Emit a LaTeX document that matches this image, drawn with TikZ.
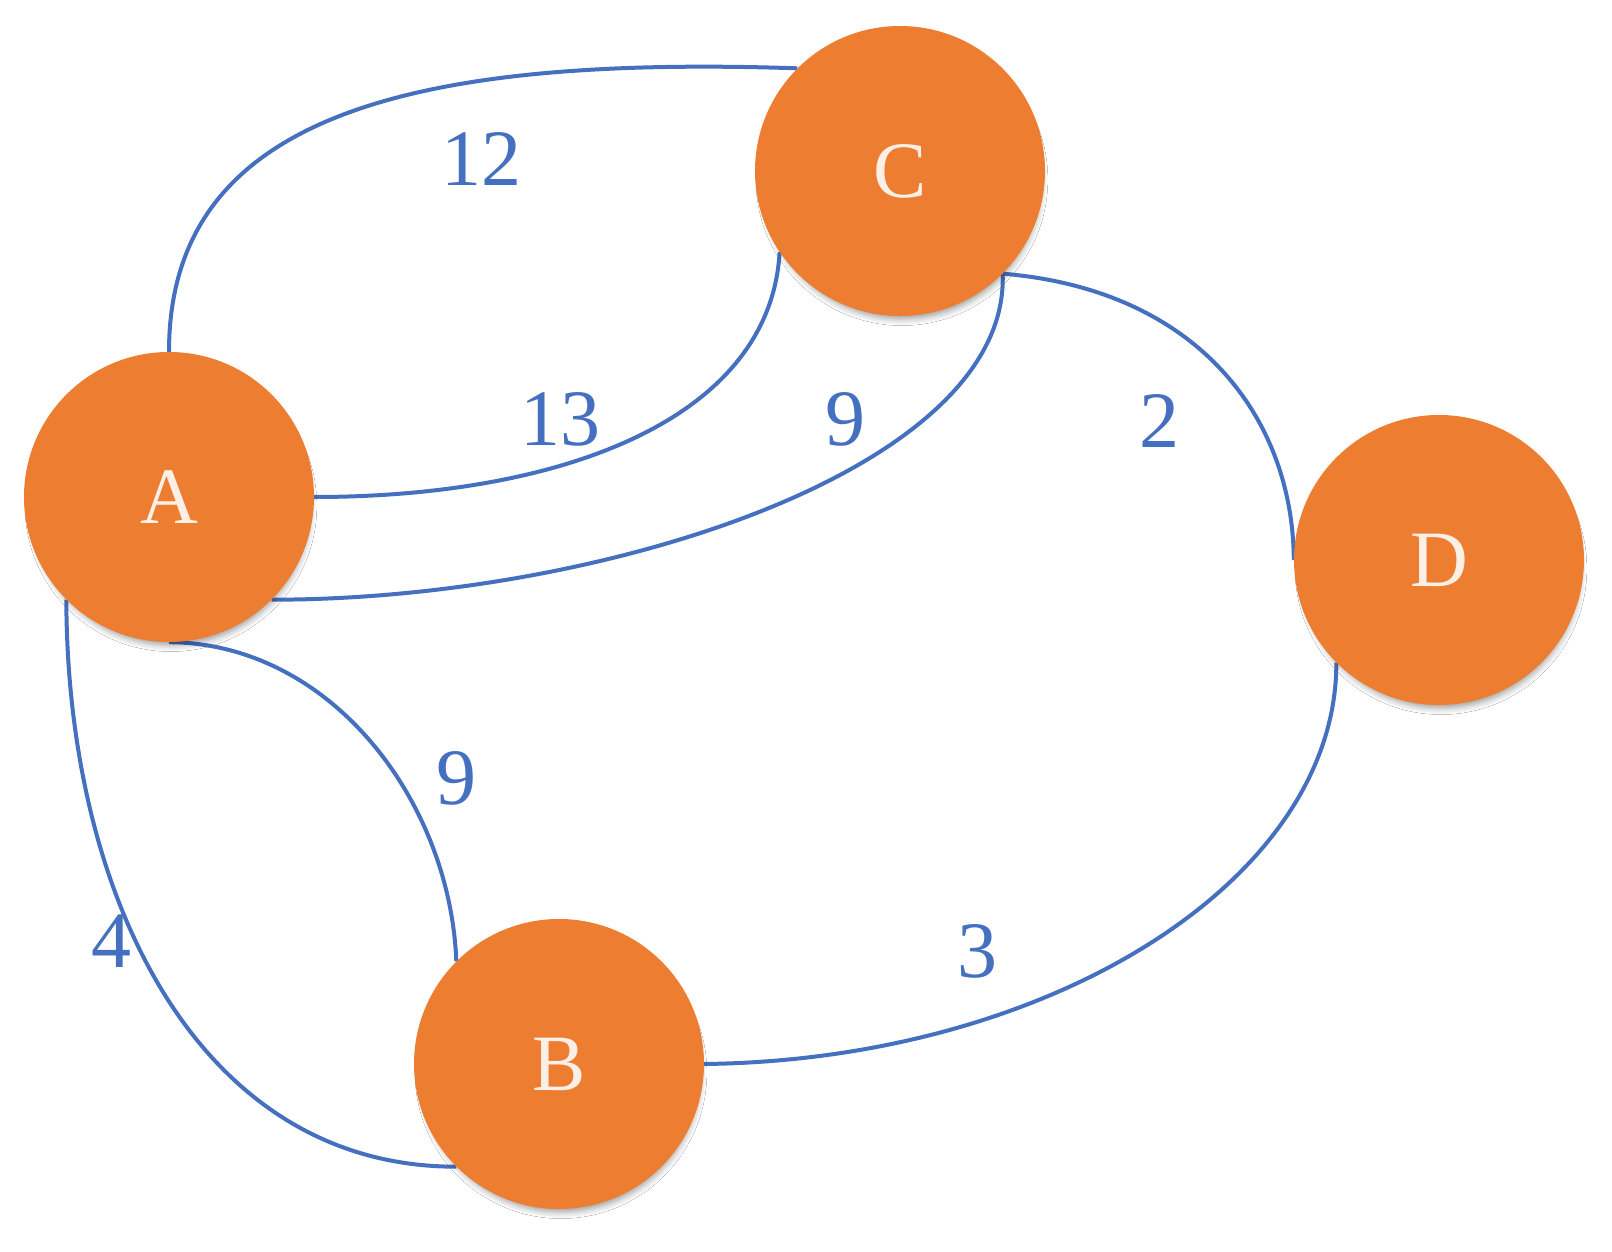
\documentclass[tikz,border=0pt]{standalone}
\usepackage{fontspec}
\setmainfont{Liberation Serif}
\usetikzlibrary{shadows.blur,backgrounds}
\definecolor{nodeorange}{HTML}{ED7D31}
\definecolor{edgeblue}{HTML}{4570C0}
\definecolor{lettercol}{HTML}{FCEFE5}
\tikzset{
  vertex/.style={circle, fill=nodeorange, draw=none, minimum size=290pt, inner sep=0pt,
    text=lettercol, font=\fontsize{80}{80}\selectfont,
    blur shadow={shadow scale=0.96, shadow xshift=2pt, shadow yshift=-9pt, shadow blur radius=7pt, shadow opacity=40}},
  edge/.style={draw=edgeblue, line width=4pt},
  lbl/.style={text=edgeblue, font=\fontsize{80}{80}\selectfont, inner sep=0pt}
}
\begin{document}
\begin{tikzpicture}[x=1pt, y=-1pt]
\useasboundingbox (0,0) rectangle (1612,1252);
% nodes
\node[vertex] (A) at (169,497) {A};
\node[vertex] (C) at (900,171) {C};
\node[vertex] (D) at (1439,560) {D};
\node[vertex] (B) at (559,1064) {B};
% labels
\node[lbl] (l12) at (481,159) {12};
\node[lbl] (l13) at (560,419) {13};
\node[lbl] (l9a) at (845,419) {9};
\node[lbl] (l2) at (1159,421) {2};
\node[lbl] (l9b) at (456,778) {9};
\node[lbl] (l4) at (111,941) {4};
\node[lbl] (l3) at (977,951) {3};
\begin{pgfonlayer}{background}
\fill[white] (0,0) rectangle (1612,1252);
\draw[edge] (A.90) .. controls (169,120) and (400,55) .. (C.135);
\draw[edge] (A.0) .. controls (560,497) and (770,420) .. (C.214);
\draw[edge] (A.-45) .. controls (600,600) and (1010,470) .. (C.-45);
\draw[edge] (C.-45) .. controls (1200,290) and (1293,420) .. (D.180);
\draw[edge] (A.-90) .. controls (330,643) and (450,800) .. (B.135);
\draw[edge] (A.225) .. controls (67,900) and (200,1167) .. (B.225);
\draw[edge] (B.0) .. controls (1050,1060) and (1337,880) .. (D.225);
\end{pgfonlayer}
\end{tikzpicture}
\end{document}
